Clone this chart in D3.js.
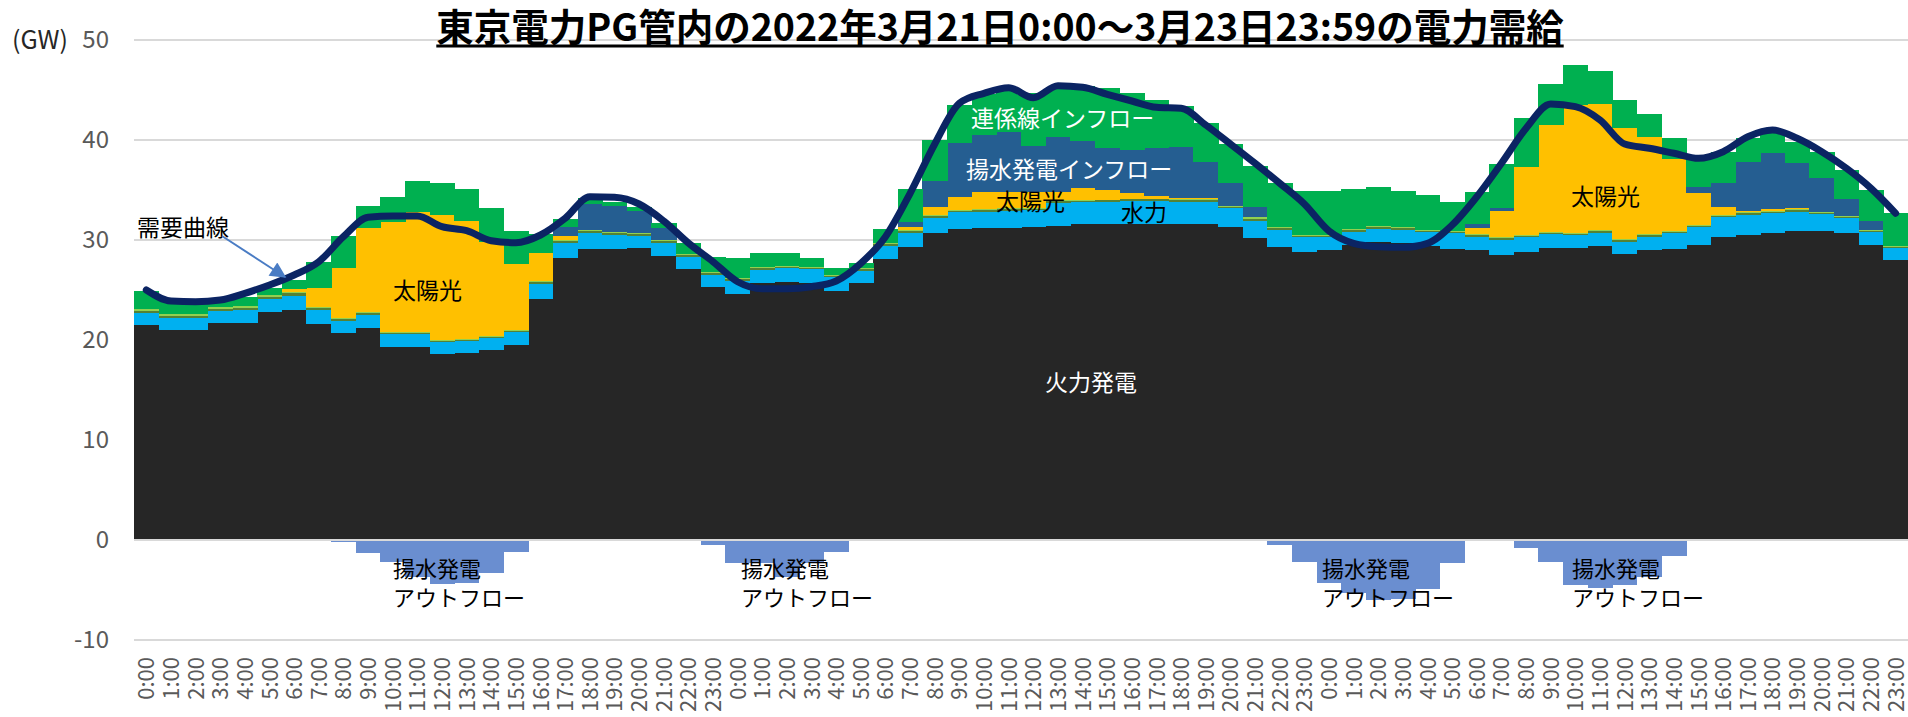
<!DOCTYPE html>
<html>
<head>
<meta charset="utf-8">
<script src="https://d3js.org/d3.v7.min.js"></script>
<title>東京電力PG管内の電力需給</title>
<style>
  body { margin: 0; background: #fff; }
  svg text { font-family: "Noto Sans CJK JP", "Noto Sans", sans-serif; }
</style>
</head>
<body>
<svg width="1908" height="717"></svg>
<script>
// hourly values (GW), 2022-03-21 0:00 .. 2022-03-23 23:00
const hourLabels = ["0:00","1:00","2:00","3:00","4:00","5:00","6:00","7:00","8:00","9:00","10:00","11:00",
  "12:00","13:00","14:00","15:00","16:00","17:00","18:00","19:00","20:00","21:00","22:00","23:00"];
const categories = hourLabels.concat(hourLabels, hourLabels);

const thermal = [21.5,21.0,21.0,21.67,21.73,22.77,23.0,21.6,20.67,21.17,19.33,19.33,18.6,18.67,19.0,19.5,24.1,28.23,29.07,29.07,29.17,28.4,27.07,25.27,
  24.6,25.67,25.77,25.67,24.93,25.67,28.07,29.33,30.67,31.1,31.17,31.23,31.33,31.4,31.6,31.6,31.6,31.6,31.6,31.6,31.33,30.17,29.33,28.77,
  29.0,29.5,29.83,29.73,29.4,29.07,29.0,28.5,28.83,29.17,29.17,29.4,28.57,29.0,29.07,29.5,30.27,30.5,30.67,30.9,30.93,30.67,29.5,28.0];
const hydro = [1.17,1.17,1.17,1.23,1.27,1.33,1.43,1.4,1.26,1.33,1.24,1.24,1.17,1.26,1.17,1.27,1.5,1.5,1.6,1.43,1.23,1.27,1.26,1.23,
  1.33,1.33,1.4,1.4,1.34,1.26,1.33,1.4,1.5,1.67,1.66,1.7,1.67,2.33,2.17,2.23,2.33,2.33,2.23,2.23,1.84,1.76,1.67,1.5,
  1.27,1.33,1.24,1.27,1.37,1.6,1.33,1.5,1.44,1.4,1.33,1.33,1.26,1.33,1.6,1.77,2.0,2.0,2.0,1.93,1.64,1.5,1.27,1.17];
const biomass = [0.25,0.25,0.25,0.25,0.25,0.24,0.24,0.2,0.18,0.2,0.15,0.15,0.15,0.12,0.15,0.15,0.2,0.17,0.2,0.18,0.18,0.2,0.17,0.18,
  0.17,0.18,0.15,0.17,0.15,0.17,0.2,0.17,0.2,0.15,0.17,0.17,0.15,0.17,0.15,0.14,0.14,0.14,0.17,0.17,0.17,0.22,0.18,0.17,
  0.17,0.17,0.2,0.18,0.17,0.15,0.17,0.18,0.17,0.15,0.15,0.17,0.17,0.17,0.15,0.15,0.15,0.18,0.17,0.17,0.17,0.17,0.17,0.17];
const wind = [0.15,0.18,0.18,0.15,0.15,0.13,0.13,0.1,0.09,0.1,0.08,0.08,0.08,0.05,0.08,0.08,0.1,0.1,0.13,0.12,0.12,0.13,0.1,0.12,
  0.1,0.12,0.08,0.11,0.08,0.1,0.15,0.1,0.13,0.08,0.1,0.1,0.1,0.1,0.08,0.08,0.08,0.08,0.1,0.1,0.11,0.15,0.12,0.11,
  0.11,0.1,0.13,0.12,0.11,0.08,0.1,0.12,0.11,0.08,0.1,0.1,0.1,0.1,0.08,0.08,0.08,0.12,0.11,0.1,0.11,0.11,0.11,0.11];
const solar = [0,0,0,0,0,0.03,0.3,1.87,5.03,8.43,10.97,11.97,12.5,11.83,9.4,6.6,2.77,0.4,0,0,0,0,0,0,
  0,0,0,0,0,0,0,0.33,0.77,1.33,1.67,1.57,1.52,0.83,1.23,0.95,0.58,0.25,0.15,0.1,0,0,0,0,
  0,0,0,0,0,0,0.57,2.63,6.78,10.7,12.75,12.57,11.07,9.67,7.17,3.17,0.77,0.15,0.12,0.1,0,0,0,0];
const pumpedIn = [0,0,0,0,0,0,0,0,0,0,0,0,0,0,0,0,0,0.93,2.6,2.63,2.23,1.23,0,0,
  0,0,0,0,0,0,0,0.5,2.63,5.4,5.73,6.06,4.66,5.5,4.7,4.17,4.27,4.77,5.08,3.63,2.28,0.97,0,0,
  0,0,0,0,0,0,0.43,0.24,0,0,0,0,0,0,0,0.66,2.4,4.88,5.66,4.47,3.38,1.65,0.88,0];
const interconnect = [1.86,1.47,1.47,0.9,0.9,0.7,0.9,2.6,3.17,2.2,2.56,3.13,3.17,3.14,3.43,3.3,1.93,0.74,0.57,0.4,0.4,0.44,1.07,1.47,
  1.97,1.37,1.27,0.88,0.67,0.53,1.32,3.27,4.1,3.77,4.1,4.24,5.24,4.94,5.47,6.0,5.67,4.83,4.07,3.84,3.84,4.16,4.43,4.4,
  4.35,3.97,3.93,3.6,3.45,2.93,3.23,4.43,4.84,4.1,4.0,3.33,2.83,2.3,2.1,3.17,3.16,2.34,1.94,2.16,2.54,2.9,3.07,3.22];
const pumpedOut = [0,0,0,0,0,0,0,0,-0.15,-1.33,-2.17,-3.73,-4.43,-4.27,-3.33,-1.23,0,0,0,0,0,0,0,-0.5,
  -2.27,-2.27,-3.7,-2.3,-1.17,0,0,0,0,0,0,0,0,0,0,0,0,0,0,0,0,0,-0.45,-2.17,
  -4.33,-5.3,-6.0,-5.9,-4.93,-2.33,0,0,-0.83,-2.17,-4.5,-4.83,-4.5,-3.67,-1.6,0,0,0,0,0,0,0,0,0];
const demand = [25.0,23.9,23.83,24.0,24.67,25.5,26.5,27.83,30.33,32.27,32.4,32.4,31.33,30.93,29.93,29.73,30.5,32.17,34.33,34.27,33.6,31.9,29.7,27.83,
  25.83,25.13,25.13,25.33,25.9,27.67,30.33,34.67,39.6,43.67,44.67,45.23,44.23,45.43,45.27,44.57,43.9,43.27,43.17,41.5,39.6,37.67,35.67,33.6,
  30.9,29.67,29.33,29.27,29.67,31.5,34.33,37.67,41.17,43.6,43.33,42.0,39.6,39.17,38.67,38.17,38.83,40.33,41.0,40.17,38.83,37.17,35.17,32.67];
const yTicks = [-10, 0, 10, 20, 30, 40, 50];

const series = [
  { key: "火力発電", values: thermal, color: "#262626" },
  { key: "水力", values: hydro, color: "#00B0F0" },
  { key: "バイオマス", values: biomass, color: "#548235" },
  { key: "風力", values: wind, color: "#92D050" },
  { key: "太陽光", values: solar, color: "#FFC000" },
  { key: "揚水発電インフロー", values: pumpedIn, color: "#255E91" },
  { key: "連係線インフロー", values: interconnect, color: "#00B050" },
  { key: "揚水発電アウトフロー", values: pumpedOut, color: "#6A8ED0" }
];

const svg = d3.select("svg");
const plotLeft = 134, plotRight = 1908, plotTop = 40, plotBottom = 640;

const rows = categories.map(function(c, i) {
  const r = { i: i };
  series.forEach(function(s) { r[s.key] = s.values[i]; });
  return r;
});

const x = d3.scaleBand().domain(d3.range(categories.length)).range([plotLeft, plotRight]).padding(0);
const y = d3.scaleLinear().domain([-10, 50]).range([plotBottom, plotTop]);

// gridlines
svg.append("g").selectAll("line")
  .data(yTicks.filter(function(d) { return d !== 0; }))
  .enter().append("line")
  .attr("x1", plotLeft).attr("x2", plotRight)
  .attr("y1", function(d) { return y(d); }).attr("y2", function(d) { return y(d); })
  .attr("stroke", "#D9D9D9").attr("stroke-width", 2);

const stack = d3.stack()
  .keys(series.map(function(s) { return s.key; }))
  .offset(d3.stackOffsetDiverging);
const stacked = stack(rows);

svg.append("g").selectAll("g")
  .data(stacked)
  .enter().append("g")
  .attr("fill", function(d, k) { return series[k].color; })
  .selectAll("rect")
  .data(function(d) { return d; })
  .enter().append("rect")
  .attr("x", function(d) { return x(d.data.i); })
  .attr("width", x.bandwidth() + 0.5)
  .attr("y", function(d) { return y(Math.max(d[0], d[1])); })
  .attr("height", function(d) { return Math.abs(y(d[0]) - y(d[1])); })
  .attr("shape-rendering", "crispEdges");

// zero line
svg.append("line")
  .attr("x1", plotLeft).attr("x2", plotRight)
  .attr("y1", y(0)).attr("y2", y(0))
  .attr("stroke", "#D9D9D9").attr("stroke-width", 2);

// demand curve
const line = d3.line()
  .x(function(d, i) { return x(i) + x.bandwidth() / 2; })
  .y(function(d) { return y(d); })
  .curve(d3.curveMonotoneX);
svg.append("path")
  .datum(demand)
  .attr("d", line)
  .attr("fill", "none")
  .attr("stroke", "#0B2463")
  .attr("stroke-width", 7)
  .attr("stroke-linejoin", "round")
  .attr("stroke-linecap", "round");

// y axis labels
svg.append("g").selectAll("text")
  .data(yTicks)
  .enter().append("text")
  .attr("x", 109)
  .attr("y", function(d) { return y(d); })
  .attr("dy", "0.35em")
  .attr("text-anchor", "end")
  .attr("fill", "#595959")
  .attr("font-size", 24)
  .text(function(d) { return d; });

svg.append("text")
  .attr("x", 12).attr("y", y(50)).attr("dy", "0.35em")
  .attr("font-size", 25).attr("fill", "#262626")
  .text("(GW)");

// x axis labels
svg.append("g").selectAll("text")
  .data(categories)
  .enter().append("text")
  .attr("transform", function(d, i) {
    return "translate(" + (x(i) + x.bandwidth() / 2 + 8) + "," + 657 + ") rotate(-90)";
  })
  .attr("text-anchor", "end")
  .attr("fill", "#595959")
  .attr("font-size", 22)
  .text(function(d) { return d; });

// title
const title = svg.append("text")
  .attr("x", 1000).attr("y", 41)
  .attr("text-anchor", "middle")
  .attr("font-size", 37.5)
  .attr("font-weight", "bold")
  .attr("fill", "#000")
  .text("東京電力PG管内の2022年3月21日0:00～3月23日23:59の電力需給");
const tw = title.node().getComputedTextLength();
svg.append("line")
  .attr("x1", 1000 - tw / 2).attr("x2", 1000 + tw / 2)
  .attr("y1", 46).attr("y2", 46)
  .attr("stroke", "#000").attr("stroke-width", 3);

// annotations
const notes = [
  { t: "太陽光", x: 393, y: 299, c: "#000" },
  { t: "連係線インフロー", x: 971, y: 127, c: "#fff" },
  { t: "揚水発電インフロー", x: 966, y: 178, c: "#fff" },
  { t: "太陽光", x: 996, y: 210, c: "#000" },
  { t: "水力", x: 1121, y: 221, c: "#000" },
  { t: "火力発電", x: 1045, y: 391, c: "#fff" },
  { t: "太陽光", x: 1571, y: 205, c: "#000" },
  { t: "需要曲線", x: 137, y: 236, c: "#000" }
];
svg.append("g").selectAll("text")
  .data(notes)
  .enter().append("text")
  .attr("x", function(d) { return d.x; })
  .attr("y", function(d) { return d.y; })
  .attr("font-size", 23)
  .attr("fill", function(d) { return d.c; })
  .text(function(d) { return d.t; });

// outflow labels, two lines each
const outNoteX = [393, 741, 1322, 1572];
const outNoteLines = ["揚水発電", "アウトフロー"];
outNoteX.forEach(function(px) {
  outNoteLines.forEach(function(s, k) {
    svg.append("text")
      .attr("x", px).attr("y", 577 + k * 29)
      .attr("font-size", 22).attr("fill", "#000")
      .text(s);
  });
});

// arrow for demand curve label
svg.append("defs").append("marker")
  .attr("id", "arrowhead")
  .attr("viewBox", "0 0 10 10")
  .attr("refX", 9).attr("refY", 5)
  .attr("markerWidth", 9).attr("markerHeight", 8)
  .attr("orient", "auto")
  .append("path")
  .attr("d", "M0,0 L10,5 L0,10 z")
  .attr("fill", "#4A7CC4");
svg.append("line")
  .attr("x1", 222).attr("y1", 236)
  .attr("x2", 285).attr("y2", 277)
  .attr("stroke", "#4A7CC4")
  .attr("stroke-width", 2)
  .attr("marker-end", "url(#arrowhead)");
</script>
</body>
</html>
